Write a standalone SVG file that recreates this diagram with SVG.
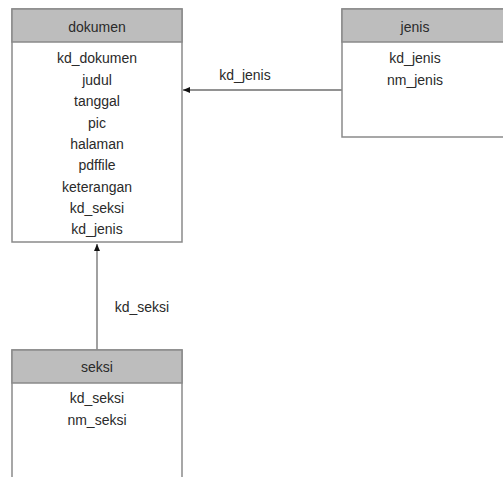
<svg xmlns="http://www.w3.org/2000/svg" width="503" height="477" viewBox="0 0 503 477">
<style>
.box{fill:#ffffff;stroke:#8a8a8a;stroke-width:1.5}
.hdr{fill:#bdbdbd;stroke:#8a8a8a;stroke-width:1.5}
.t{font-family:"Liberation Sans",Arial,sans-serif;font-size:14px;fill:#2a2a2a;text-anchor:middle}
.conn{stroke:#6e6e6e;stroke-width:1.3;fill:none}
</style>
<defs>
<marker id="arr" viewBox="0 0 7 6" refX="7" refY="3" markerWidth="7" markerHeight="6" markerUnits="userSpaceOnUse" orient="auto">
<path d="M0,0 L7,3 L0,6 Z" fill="#111"/>
</marker>
</defs>
<rect width="503" height="477" fill="#ffffff"/>
<g id="connectors">
<line class="conn" x1="342" y1="90" x2="183" y2="90" marker-end="url(#arr)"/>
<text class="t" x="245" y="80">kd_jenis</text>
<line class="conn" x1="97" y1="350" x2="97" y2="244" marker-end="url(#arr)"/>
<text class="t" x="142" y="312">kd_seksi</text>
</g>
<g id="dokumen">
<rect class="box" x="12" y="9" width="170" height="233"/>
<rect class="hdr" x="12" y="9" width="170" height="33"/>
<text class="t" x="97" y="32">dokumen</text>
<text class="t" x="97" y="63">kd_dokumen</text>
<text class="t" x="97" y="84.5">judul</text>
<text class="t" x="97" y="106">tanggal</text>
<text class="t" x="97" y="127.5">pic</text>
<text class="t" x="97" y="149">halaman</text>
<text class="t" x="97" y="170">pdffile</text>
<text class="t" x="97" y="192">keterangan</text>
<text class="t" x="97" y="213">kd_seksi</text>
<text class="t" x="97" y="234">kd_jenis</text>
</g>
<g id="jenis">
<rect class="box" x="342" y="9" width="170" height="128"/>
<rect class="hdr" x="342" y="9" width="170" height="33"/>
<text class="t" x="415" y="32">jenis</text>
<text class="t" x="415" y="63">kd_jenis</text>
<text class="t" x="415" y="84.5">nm_jenis</text>
</g>
<g id="seksi">
<rect class="box" x="12" y="350" width="170" height="140"/>
<rect class="hdr" x="12" y="350" width="170" height="33"/>
<text class="t" x="97" y="372">seksi</text>
<text class="t" x="97" y="403">kd_seksi</text>
<text class="t" x="97" y="424.5">nm_seksi</text>
</g>
</svg>
